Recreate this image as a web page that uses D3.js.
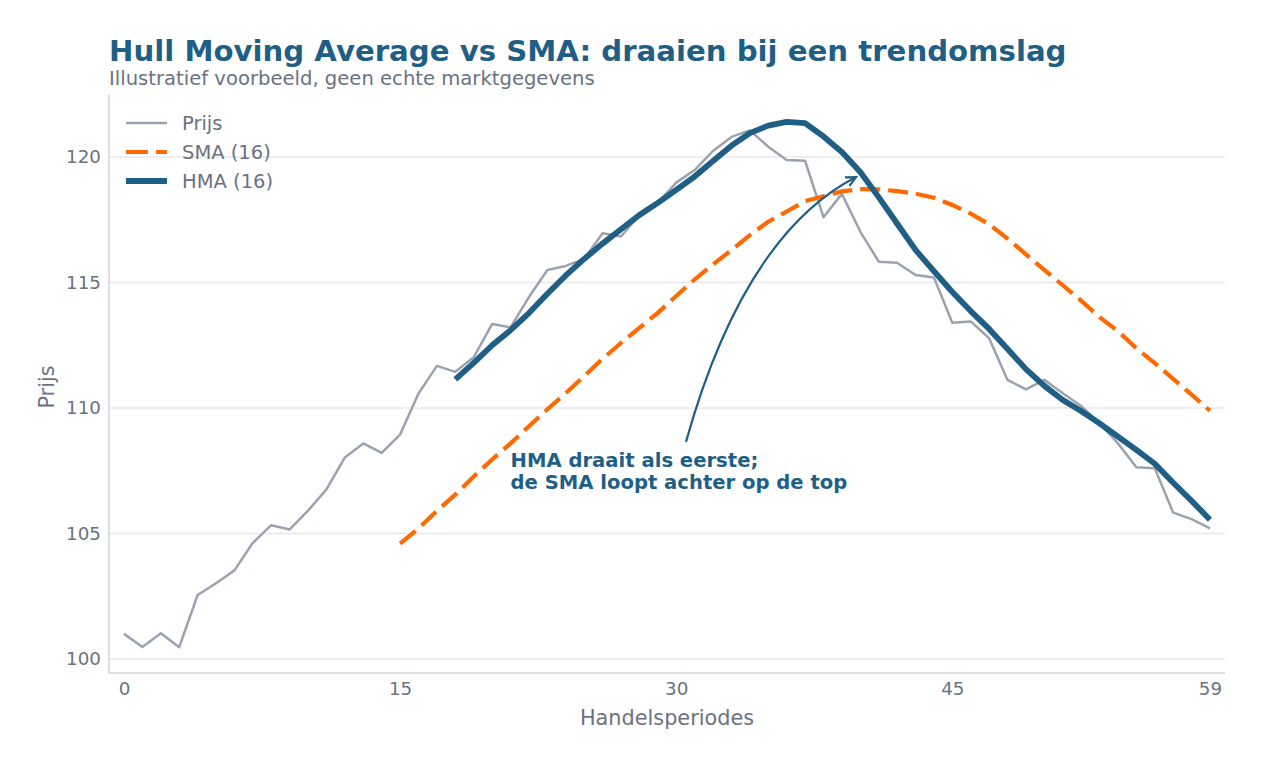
<!DOCTYPE html>
<html>
<head>
<meta charset="utf-8">
<script src="https://cdn.jsdelivr.net/npm/d3@7"></script>
<style>
  html, body { margin: 0; padding: 0; background: #ffffff; }
  svg { display: block; font-family: "DejaVu Sans", sans-serif; }
</style>
</head>
<body>
<svg id="chart" width="1262" height="766"></svg>
<script>
// ---- data ----
const periods = d3.range(0, 60);
const price = [101.00,100.48,101.03,100.47,102.55,103.02,103.53,104.63,105.33,105.16,
  105.91,106.76,108.03,108.59,108.21,108.94,110.58,111.68,111.44,112.02,
  113.35,113.21,114.42,115.50,115.66,115.94,116.96,116.83,117.69,118.17,
  118.98,119.48,120.24,120.80,121.06,120.41,119.88,119.85,117.60,118.53,
  117.03,115.83,115.79,115.30,115.20,113.40,113.45,112.78,111.12,110.74,
  111.12,110.59,110.08,109.39,108.59,107.64,107.60,105.83,105.57,105.20];
const smaStart = 15;
const sma = [104.60,105.20,105.90,106.55,107.27,107.95,108.59,109.27,109.95,110.59,
  111.27,111.96,112.59,113.19,113.79,114.46,115.12,115.72,116.29,116.89,
  117.42,117.83,118.24,118.44,118.63,118.72,118.71,118.64,118.54,118.38,
  118.09,117.74,117.32,116.75,116.12,115.50,114.89,114.28,113.62,113.06,
  112.38,111.79,111.16,110.53,109.89];
const hmaStart = 18;
const hma = [111.14,111.80,112.50,113.10,113.78,114.55,115.28,115.94,116.55,117.12,
  117.69,118.17,118.69,119.22,119.84,120.45,120.95,121.25,121.40,121.35,
  120.82,120.20,119.40,118.40,117.35,116.30,115.45,114.62,113.86,113.15,
  112.35,111.55,110.88,110.32,109.88,109.39,108.86,108.33,107.78,107.02,
  106.30,105.55];
const xTicks = [0, 15, 30, 45, 59];
const yTicks = [100, 105, 110, 115, 120];
const seriesNames = ["Prijs", "SMA (16)", "HMA (16)"];
const titleText = "Hull Moving Average vs SMA: draaien bij een trendomslag";
const subtitleText = "Illustratief voorbeeld, geen echte marktgegevens";
const xLabel = "Handelsperiodes";
const yLabel = "Prijs";
const noteLines = ["HMA draait als eerste;", "de SMA loopt achter op de top"];
const notePos = [21, 107.65];
const arrowFrom = [30.53, 108.65];
const arrowTo = [39.77, 119.2];

// ---- styling ----
const C = { title: "#1f5f85", sub: "#6b7280", price: "#9ca3af", sma: "#ff6a00", hma: "#1f5f85",
  grid: "#e8e8eb", spine: "#d1d5db", tick: "#6b7280" };

const svg = d3.select("#chart");
const L = 109, R = 1225, T = 95, B = 673;
const x = d3.scaleLinear().domain([-0.815, 59.815]).range([L, R]);
const y = d3.scaleLinear().domain([99.442, 122.47]).range([B, T]);

// title
svg.append("text").attr("x", 109).attr("y", 61).attr("font-size", 29.2).attr("font-weight", "bold")
  .attr("fill", C.title).text(titleText);
svg.append("text").attr("x", 109).attr("y", 85).attr("font-size", 19.6).attr("fill", C.sub).text(subtitleText);

// grid
svg.append("g").selectAll("line").data(yTicks).join("line")
  .attr("x1", L).attr("x2", R).attr("y1", d => y(d)).attr("y2", d => y(d))
  .attr("stroke", C.grid).attr("stroke-width", 1.6);

// axes
const yAxis = svg.append("g").attr("transform", `translate(${L},0)`)
  .call(d3.axisLeft(y).tickValues(yTicks).tickSize(0).tickPadding(8).tickFormat(d3.format("d")));
const xAxis = svg.append("g").attr("transform", `translate(0,${B})`)
  .call(d3.axisBottom(x).tickValues(xTicks).tickSize(0).tickPadding(9).tickFormat(d3.format("d")));
[yAxis, xAxis].forEach(g => {
  g.select(".domain").remove();
  g.selectAll("text").attr("fill", C.tick).attr("font-size", 18.3).attr("font-family", "DejaVu Sans");
});
svg.append("line").attr("x1", L).attr("x2", L).attr("y1", T).attr("y2", B)
  .attr("stroke", C.spine).attr("stroke-width", 1.6);
svg.append("line").attr("x1", L).attr("x2", R).attr("y1", B).attr("y2", B)
  .attr("stroke", C.spine).attr("stroke-width", 1.6);

// axis labels
svg.append("text").attr("x", (L + R) / 2).attr("y", 725).attr("text-anchor", "middle")
  .attr("font-size", 20.8).attr("fill", C.tick).text(xLabel);
svg.append("text").attr("transform", `translate(54,${(T + B) / 2 + 3}) rotate(-90)`).attr("text-anchor", "middle")
  .attr("font-size", 20.8).attr("fill", C.tick).text(yLabel);

// lines
const line = d3.line().x(d => x(d[0])).y(d => y(d[1]));
const pricePts = periods.map((p, i) => [p, price[i]]);
const smaPts = sma.map((v, i) => [smaStart + i, v]);
const hmaPts = hma.map((v, i) => [hmaStart + i, v]);

svg.append("path").attr("d", line(pricePts)).attr("fill", "none").attr("stroke", C.price)
  .attr("stroke-width", 2.5).attr("stroke-linejoin", "round");
svg.append("path").attr("d", line(smaPts)).attr("fill", "none").attr("stroke", C.sma)
  .attr("stroke-width", 4.2).attr("stroke-dasharray", "20 8");
svg.append("path").attr("d", line(hmaPts)).attr("fill", "none").attr("stroke", C.hma)
  .attr("stroke-width", 5.8).attr("stroke-linejoin", "round");

// annotation arrow
const p0 = [x(arrowFrom[0]), y(arrowFrom[1])];
const p2 = [x(arrowTo[0]), y(arrowTo[1])];
const cp = [p0[0] + 0.34 * (p2[0] - p0[0]), p0[1] + 0.78 * (p2[1] - p0[1])];
svg.append("path").attr("d", `M${p0[0]},${p0[1]} Q${cp[0]},${cp[1]} ${p2[0]},${p2[1]}`)
  .attr("fill", "none").attr("stroke", C.hma).attr("stroke-width", 2.2);
const ang = Math.atan2(p2[1] - cp[1], p2[0] - cp[0]);
const hl = 11, ha = 0.45;
const h1 = [p2[0] - hl * Math.cos(ang - ha), p2[1] - hl * Math.sin(ang - ha)];
const h2 = [p2[0] - hl * Math.cos(ang + ha), p2[1] - hl * Math.sin(ang + ha)];
svg.append("path").attr("d", `M${h1[0]},${h1[1]} L${p2[0]},${p2[1]} L${h2[0]},${h2[1]}`)
  .attr("fill", "none").attr("stroke", C.hma).attr("stroke-width", 2.2);

const note = svg.append("text").attr("font-size", 19.6).attr("font-weight", "bold").attr("fill", C.hma);
noteLines.forEach((t, i) => note.append("tspan").attr("x", x(notePos[0])).attr("y", y(notePos[1]) + i * 22).text(t));

// legend
const legend = [
  { name: seriesNames[0], color: C.price, w: 2.5, dash: null },
  { name: seriesNames[1], color: C.sma, w: 4.2, dash: "22 8" },
  { name: seriesNames[2], color: C.hma, w: 5.8, dash: null }
];
const lg = svg.append("g");
legend.forEach((d, i) => {
  const yy = 123 + i * 29;
  lg.append("line").attr("x1", 126).attr("x2", 167).attr("y1", yy).attr("y2", yy)
    .attr("stroke", d.color).attr("stroke-width", d.w).attr("stroke-dasharray", d.dash);
  lg.append("text").attr("x", 182).attr("y", yy).attr("dy", "0.35em").attr("font-size", 19.5)
    .attr("fill", C.tick).text(d.name);
});
</script>
</body>
</html>
